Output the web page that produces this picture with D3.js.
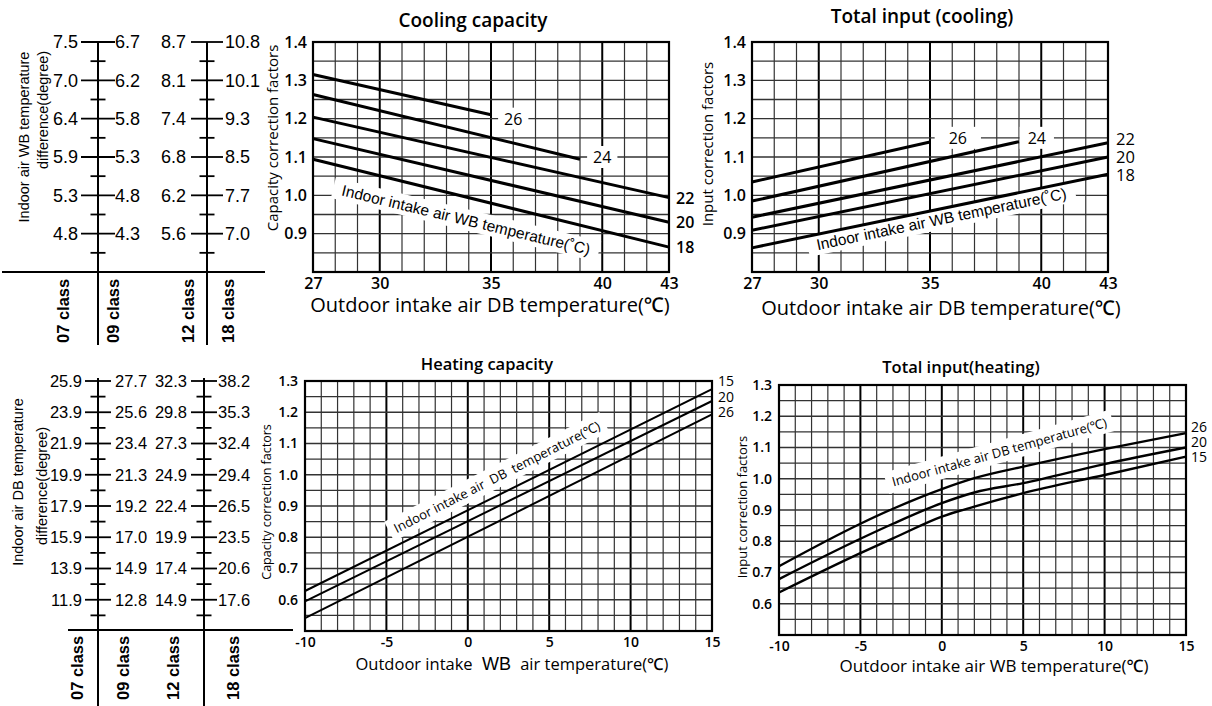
<!DOCTYPE html>
<html>
<head>
<meta charset="utf-8">
<script src="https://cdn.jsdelivr.net/npm/d3@7"></script>
<style>
  body { margin: 0; background: #fff; }
  svg { display: block; }
</style>
</head>
<body>
<script>
"use strict";
(function(){
    // ---------- data ----------
    // correction factor rows the nomograms line up with
    const coolFactors = [1.4, 1.3, 1.2, 1.1, 1.0, 0.9]
    const heatFactors = [1.3, 1.2, 1.1, 1.0, 0.9, 0.8, 0.7, 0.6]
    const classNames = ["07 class", "09 class", "12 class", "18 class"]

    // indoor air WB temperature difference per class
    const wbDiff07 = [7.5, 7.0, 6.4, 5.9, 5.3, 4.8]
    const wbDiff09 = [6.7, 6.2, 5.8, 5.3, 4.8, 4.3]
    const wbDiff12 = [8.7, 8.1, 7.4, 6.8, 6.2, 5.6]
    const wbDiff18 = [10.8, 10.1, 9.3, 8.5, 7.7, 7.0]

    // indoor air DB temperature difference per class
    const dbDiff07 = [25.9, 23.9, 21.9, 19.9, 17.9, 15.9, 13.9, 11.9]
    const dbDiff09 = [27.7, 25.6, 23.4, 21.3, 19.2, 17.0, 14.9, 12.8]
    const dbDiff12 = [32.3, 29.8, 27.3, 24.9, 22.4, 19.9, 17.4, 14.9]
    const dbDiff18 = [38.2, 35.3, 32.4, 29.4, 26.5, 23.5, 20.6, 17.6]

    // cooling capacity: [outdoor DB, factor] for indoor WB 26..18
    const coolCap26 = [[27, 1.315], [35, 1.21]]
    const coolCap24 = [[27, 1.263], [39, 1.094]]
    const coolCap22 = [[27, 1.204], [43, 0.994]]
    const coolCap20 = [[27, 1.148], [43, 0.930]]
    const coolCap18 = [[27, 1.094], [43, 0.865]]

    // total input (cooling)
    const coolIn26 = [[27, 1.035], [35, 1.139]]
    const coolIn24 = [[27, 0.985], [39, 1.140]]
    const coolIn22 = [[27, 0.943], [43, 1.137]]
    const coolIn20 = [[27, 0.909], [43, 1.100]]
    const coolIn18 = [[27, 0.863], [43, 1.055]]

    // heating capacity: [outdoor WB, factor] for indoor DB 15, 20, 26
    const heatCap15 = [[-10, 0.628], [15, 1.274]]
    const heatCap20 = [[-10, 0.595], [15, 1.236]]
    const heatCap26 = [[-10, 0.541], [15, 1.193]]

    // total input (heating)
    const heatIn26 = [[-10, 0.720], [-5, 0.856], [-3, 0.904], [0, 0.967], [2, 1.002], [5, 1.039], [10, 1.095], [15, 1.146]]
    const heatIn20 = [[-10, 0.679], [-5, 0.808], [-3, 0.856], [0, 0.922], [2, 0.956], [5, 0.986], [10, 1.047], [15, 1.100]]
    const heatIn15 = [[-10, 0.636], [-5, 0.762], [-3, 0.809], [0, 0.879], [2, 0.911], [5, 0.954], [10, 1.012], [15, 1.071]]

    const coolTicksX = [27, 30, 35, 40, 43]
    const heatTicksX = [-10, -5, 0, 5, 10, 15]

    // ---------- svg ----------
    const svg = d3.select('body').append('svg')
        .attr('width', 1212)
        .attr('height', 706)

    const chartFont = "'Open Sans', 'Noto Sans', sans-serif"
    const arialFont = "'Liberation Sans', Arial, sans-serif"
    const f1 = d3.format('.1f')

    // grid chart with frame, lines every unit on x and every 0.05 on y
    function makeChart(box, xDomain, yDomain, opts) {
        const x = d3.scaleLinear().domain(xDomain).range([box.left, box.right])
        const y = d3.scaleLinear().domain(yDomain).range([box.bottom, box.top])
        const g = svg.append('g')

        const xs = d3.range(xDomain[0] + 1, xDomain[1])
        g.selectAll(null).data(xs).enter().append('line')
            .attr('x1', d => x(d)).attr('x2', d => x(d))
            .attr('y1', box.top).attr('y2', box.bottom)
            .attr('stroke', d => d % 5 === 0 ? '#000' : '#333')
            .attr('stroke-width', d => d % 5 === 0 ? 2 : 1.2)

        const nY = Math.round((yDomain[1] - yDomain[0]) / 0.05)
        const ys = d3.range(1, nY).map(i => yDomain[0] + i * 0.05)
        g.selectAll(null).data(ys).enter().append('line')
            .attr('x1', box.left).attr('x2', box.right)
            .attr('y1', d => y(d)).attr('y2', d => y(d))
            .attr('stroke', '#333')
            .attr('stroke-width', 1.4)

        const overlay = svg.append('g')   // labels with white boxes
        const lines = svg.append('g')     // data lines above them

        svg.append('rect')
            .attr('x', box.left).attr('y', box.top)
            .attr('width', box.right - box.left).attr('height', box.bottom - box.top)
            .attr('fill', 'none').attr('stroke', '#000').attr('stroke-width', 2.2)

        const yAxis = d3.axisLeft(y).tickValues(opts.yTicks).tickSize(0)
            .tickPadding(opts.yPad).tickFormat(f1)
        const ya = svg.append('g').attr('transform', `translate(${box.left},0)`).call(yAxis)
        ya.select('.domain').remove()
        ya.selectAll('text').attr('font-family', chartFont).attr('font-size', opts.tickSize)
            .attr('font-weight', 600).attr('fill', '#000')

        const xAxis = d3.axisBottom(x).tickValues(opts.xTicks).tickSize(0)
            .tickPadding(opts.xPad).tickFormat(d => String(d))
        const xa = svg.append('g').attr('transform', `translate(0,${box.bottom})`).call(xAxis)
        xa.select('.domain').remove()
        xa.selectAll('text').attr('font-family', chartFont).attr('font-size', opts.tickSize)
            .attr('font-weight', 600).attr('fill', '#000')

        return { x, y, overlay, lines }
    }

    function drawLines(chart, seriesList, width, curve) {
        const line = d3.line()
            .x(d => chart.x(d[0]))
            .y(d => chart.y(d[1]))
            .curve(curve || d3.curveLinear)
        chart.lines.selectAll(null).data(seriesList).enter().append('path')
            .attr('d', line)
            .attr('fill', 'none')
            .attr('stroke', '#000')
            .attr('stroke-width', width)
            .attr('stroke-linecap', 'butt')
    }

    // text with white box behind it, optional rotation
    function boxedText(parent, txt, px, py, angle, font, size, weight, anchor, padX, padY) {
        const lg = parent.append('g').attr('transform', `translate(${px},${py}) rotate(${angle})`)
        const r = lg.append('rect').attr('fill', '#fff')
        const t = lg.append('text')
            .attr('font-family', font).attr('font-size', size).attr('font-weight', weight)
            .attr('text-anchor', anchor)
            .attr('xml:space', 'preserve')
            .text(txt)
        const bb = t.node().getBBox()
        r.attr('x', bb.x - padX).attr('y', bb.y - padY)
            .attr('width', bb.width + 2 * padX).attr('height', bb.height + 2 * padY)
        return t
    }

    function plainText(txt, px, py, font, size, weight, anchor) {
        return svg.append('text')
            .attr('x', px).attr('y', py)
            .attr('font-family', font).attr('font-size', size).attr('font-weight', weight)
            .attr('text-anchor', anchor)
            .text(txt)
    }

    function vText(txt, px, py, font, size, weight, anchor) {
        return svg.append('text')
            .attr('transform', `translate(${px},${py}) rotate(-90)`)
            .attr('dy', '0.35em')
            .attr('font-family', font).attr('font-size', size).attr('font-weight', weight)
            .attr('text-anchor', anchor)
            .text(txt)
    }

    // ---------- nomograms ----------
    function drawNomogram(y, factors, columns, axes, cfg) {
        const g = svg.append('g')
        axes.forEach(ax => {
            g.append('line').attr('x1', ax.x).attr('x2', ax.x)
                .attr('y1', cfg.top).attr('y2', cfg.bottom)
                .attr('stroke', '#000').attr('stroke-width', 2)
            g.selectAll(null).data(factors).enter().append('line')
                .attr('x1', ax.x - ax.major).attr('x2', ax.x + ax.major)
                .attr('y1', d => y(d)).attr('y2', d => y(d))
                .attr('stroke', '#000').attr('stroke-width', 1.8)
            g.selectAll(null).data(factors).enter().append('line')
                .attr('x1', ax.x - 7.5).attr('x2', ax.x + 7.5)
                .attr('y1', d => y(d - 0.05)).attr('y2', d => y(d - 0.05))
                .attr('stroke', '#000').attr('stroke-width', 1.8)
        })
        g.append('line').attr('x1', cfg.baseLeft).attr('x2', cfg.baseRight)
            .attr('y1', cfg.baseY).attr('y2', cfg.baseY)
            .attr('stroke', '#000').attr('stroke-width', 2)

        columns.forEach(col => {
            g.selectAll(null).data(col.values).enter().append('text')
                .attr('x', col.x)
                .attr('y', (d, i) => y(factors[i]))
                .attr('dy', '0.36em')
                .attr('text-anchor', col.anchor)
                .attr('font-family', arialFont)
                .attr('font-size', cfg.fontSize)
                .text(d => f1(d))
        })

        classNames.forEach((name, i) => {
            vText(name, cfg.classX[i], cfg.classY, arialFont, 16.5, 700, 'start')
        })
    }

    // ---------- cooling capacity ----------
    const coolCapBox = { left: 313, right: 669, top: 42, bottom: 272 }
    const coolCap = makeChart(coolCapBox, [27, 43], [0.8, 1.4],
        { yTicks: coolFactors, xTicks: coolTicksX, yPad: 6, xPad: 6, tickSize: 16 })

    boxedText(coolCap.overlay, 'Indoor intake air WB temperature(\u02daC)',
        coolCap.x(28.25), coolCap.y(1.0), 13.5, arialFont, 15.5, 400, 'start', 9, 2)
    boxedText(coolCap.overlay, '26', coolCap.x(36), coolCap.y(1.2) + 6, 0, chartFont, 16, 500, 'middle', 6, 0)
    boxedText(coolCap.overlay, '24', coolCap.x(40), coolCap.y(1.1) + 6, 0, chartFont, 16, 500, 'middle', 6, 0)
    drawLines(coolCap, [coolCap26, coolCap24, coolCap22, coolCap20, coolCap18], 3)
    ;[[coolCap22, '22'], [coolCap20, '20'], [coolCap18, '18']].forEach(([s, lab]) => {
        const last = s[s.length - 1]
        plainText(lab, coolCapBox.right + 7, coolCap.y(last[1]) + 6, chartFont, 16, 600, 'start')
    })
    plainText('Cooling capacity', 473, 27, chartFont, 19, 600, 'middle')
    plainText('Outdoor intake air DB temperature(\u2103)', 490, 312, chartFont, 20, 500, 'middle')
    vText('Capacity correction factors', 273, 138, chartFont, 15, 400, 'middle')

    // ---------- total input (cooling) ----------
    const coolInBox = { left: 752, right: 1108, top: 42, bottom: 272 }
    const coolIn = makeChart(coolInBox, [27, 43], [0.8, 1.4],
        { yTicks: coolFactors, xTicks: coolTicksX, yPad: 6, xPad: 6, tickSize: 16 })

    boxedText(coolIn.overlay, 'Indoor intake air WB temperature(\u02daC)',
        coolIn.x(29.95), coolIn.y(0.857), -11.7, arialFont, 15.5, 400, 'start', 9, 2)
    boxedText(coolIn.overlay, '26', coolIn.x(36.25), coolIn.y(1.15) + 6, 0, chartFont, 16, 500, 'middle', 14, 0)
    boxedText(coolIn.overlay, '24', coolIn.x(39.8), coolIn.y(1.15) + 6, 0, chartFont, 16, 500, 'middle', 8, 0)
    drawLines(coolIn, [coolIn26, coolIn24, coolIn22, coolIn20, coolIn18], 3)
    ;[['22', 1.147], ['20', 1.100], ['18', 1.053]].forEach(([lab, v]) => {
        plainText(lab, coolInBox.right + 8, coolIn.y(v) + 6, chartFont, 16.5, 500, 'start')
    })
    plainText('Total input (cooling)', 922, 23, chartFont, 19, 600, 'middle')
    plainText('Outdoor intake air DB temperature(\u2103)', 941, 315, chartFont, 20, 500, 'middle')
    vText('Input correction factors', 708, 144, chartFont, 15, 400, 'middle')

    // ---------- heating capacity ----------
    const heatCapBox = { left: 305, right: 712, top: 381, bottom: 631 }
    const heatCap = makeChart(heatCapBox, [-10, 15], [0.5, 1.3],
        { yTicks: heatFactors, xTicks: heatTicksX, yPad: 7, xPad: 6, tickSize: 14 })

    boxedText(heatCap.overlay, 'Indoor intake air  DB  temperature(\u2103)',
        heatCap.x(-4.36), heatCap.y(0.813), -27, chartFont, 13, 400, 'start', 6, 2)
    drawLines(heatCap, [heatCap15, heatCap20, heatCap26], 2)
    ;[['15', 1.3], ['20', 1.25], ['26', 1.2]].forEach(([lab, v]) => {
        plainText(lab, heatCapBox.right + 6, heatCap.y(v) + 5, chartFont, 14, 500, 'start')
    })
    plainText('Heating capacity', 487, 370, chartFont, 16.5, 600, 'middle')
    const hx = plainText('Outdoor intake ', 512, 670, chartFont, 16.5, 500, 'middle')
        .attr('xml:space', 'preserve')
    hx.append('tspan').attr('font-family', arialFont).attr('font-weight', 400).attr('font-size', 18).text(' WB ')
    hx.append('tspan').text(' air temperature(\u2103)')
    vText('Capacity correction factors', 267, 502, chartFont, 12.5, 400, 'middle')

    // ---------- total input (heating) ----------
    const heatInBox = { left: 779, right: 1186, top: 385, bottom: 635 }
    const heatIn = makeChart(heatInBox, [-10, 15], [0.5, 1.3],
        { yTicks: heatFactors, xTicks: heatTicksX, yPad: 7, xPad: 6, tickSize: 14 })

    boxedText(heatIn.overlay, 'Indoor intake air DB temperature(\u2103)',
        heatIn.x(-2.97), heatIn.y(0.975), -15.6, chartFont, 13, 400, 'start', 6, 2)
    drawLines(heatIn, [heatIn26, heatIn20, heatIn15], 2.4, d3.curveMonotoneX)
    ;[['26', 1.166], ['20', 1.118], ['15', 1.07]].forEach(([lab, v]) => {
        plainText(lab, heatInBox.right + 5, heatIn.y(v) + 5, chartFont, 14, 500, 'start')
    })
    plainText('Total input(heating)', 961, 373, chartFont, 16.5, 600, 'middle')
    plainText('Outdoor intake air WB temperature(\u2103)', 994, 672, chartFont, 17, 500, 'middle')
    vText('Input correction factors', 742, 507, chartFont, 13, 400, 'middle')

    // ---------- left nomograms ----------
    drawNomogram(coolCap.y, coolFactors,
        [{ values: wbDiff07, x: 78, anchor: 'end' }, { values: wbDiff09, x: 115, anchor: 'start' },
         { values: wbDiff12, x: 186, anchor: 'end' }, { values: wbDiff18, x: 225, anchor: 'start' }],
        [{ x: 98, major: 17 }, { x: 207, major: 16 }],
        { top: 42, bottom: 345, baseY: 272, baseLeft: 2, baseRight: 265,
          fontSize: 18, classX: [63, 113, 188, 228], classY: 343 })
    vText('Indoor air WB temperature', 24, 137, arialFont, 14.5, 400, 'middle')
    vText('difference(degree)', 43, 110, arialFont, 14.5, 400, 'middle')

    drawNomogram(heatCap.y, heatFactors,
        [{ values: dbDiff07, x: 82, anchor: 'end' }, { values: dbDiff09, x: 115, anchor: 'start' },
         { values: dbDiff12, x: 187, anchor: 'end' }, { values: dbDiff18, x: 218, anchor: 'start' }],
        [{ x: 98, major: 13 }, { x: 204, major: 13 }],
        { top: 378, bottom: 706, baseY: 630, baseLeft: 68, baseRight: 293,
          fontSize: 16.5, classX: [77, 123, 173, 233], classY: 700 })
    vText('Indoor air DB temperature', 18, 482, arialFont, 14.5, 400, 'middle')
    vText('difference(degree)', 42, 486, arialFont, 14.5, 400, 'middle')
})()
</script>
</body>
</html>
